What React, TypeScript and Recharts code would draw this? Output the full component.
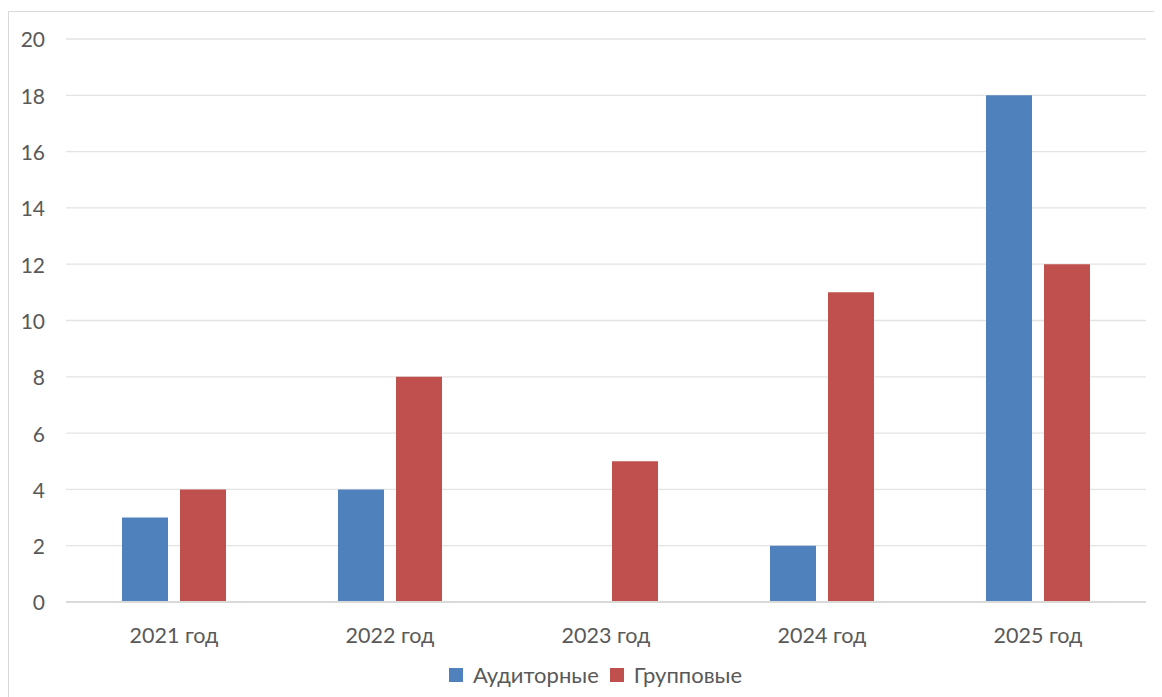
import { BarChart, Bar, XAxis, YAxis, CartesianGrid, Legend } from 'recharts';

const categories = ['2021 год', '2022 год', '2023 год', '2024 год', '2025 год'];
const auditornye = [3, 4, 0, 2, 18];
const gruppovye = [4, 8, 5, 11, 12];
const yTicks = [0, 2, 4, 6, 8, 10, 12, 14, 16, 18, 20];

const BLUE = '#4f81bd';
const RED = '#c0504d';
const TEXT = '#595959';
const FONT = 'Lato, "Open Sans", sans-serif';

const data = categories.map((name, i) => ({
  name,
  aud: auditornye[i],
  grp: gruppovye[i],
}));

const legendItems = [
  { label: 'Аудиторные', color: BLUE },
  { label: 'Групповые', color: RED },
];

function ChartLegend() {
  return (
    <div style={{ display: 'flex', justifyContent: 'center', alignItems: 'center', fontFamily: FONT, fontSize: 22, color: TEXT, paddingLeft: 36 }}>
      {legendItems.map((it, i) => (
        <div key={it.label} style={{ display: 'flex', alignItems: 'center', marginRight: i === 0 ? 11 : 0 }}>
          <span style={{ width: 14, height: 14, background: it.color, display: 'inline-block', marginRight: 10 }} />
          <span>{it.label}</span>
        </div>
      ))}
    </div>
  );
}

export default function App() {
  return (
    <div
      style={{
        marginTop: 3,
        width: 1153,
        height: 685,
        borderTop: '1px solid #d9d9d9',
        borderLeft: '1px solid #d9d9d9',
        background: '#fff',
        overflow: 'hidden',
      }}
    >
      <BarChart
        width={1153}
        height={685}
        data={data}
        margin={{ top: 27, right: 16, left: 0, bottom: 0 }}
        barSize={46}
        barGap={12}
      >
        <CartesianGrid vertical={false} stroke="#e3e3e3" strokeWidth={1.3} />
        <XAxis
          dataKey="name"
          axisLine={{ stroke: '#d9d9d9', strokeWidth: 2 }}
          tickLine={false}
          tickSize={0}
          tickMargin={26}
          height={68}
          tick={{ fill: TEXT, fontSize: 21.5, fontFamily: FONT }}
        />
        <YAxis
          domain={[0, 20]}
          ticks={yTicks}
          interval={0}
          axisLine={false}
          tickLine={false}
          tickSize={0}
          tickMargin={21}
          width={57}
          tick={{ fill: TEXT, fontSize: 21, fontFamily: FONT, dy: 1 }}
        />
        <Legend verticalAlign="bottom" content={<ChartLegend />} wrapperStyle={{ bottom: 9 }} />
        <Bar dataKey="aud" name="Аудиторные" fill={BLUE} isAnimationActive={false} />
        <Bar dataKey="grp" name="Групповые" fill={RED} isAnimationActive={false} />
      </BarChart>
    </div>
  );
}
